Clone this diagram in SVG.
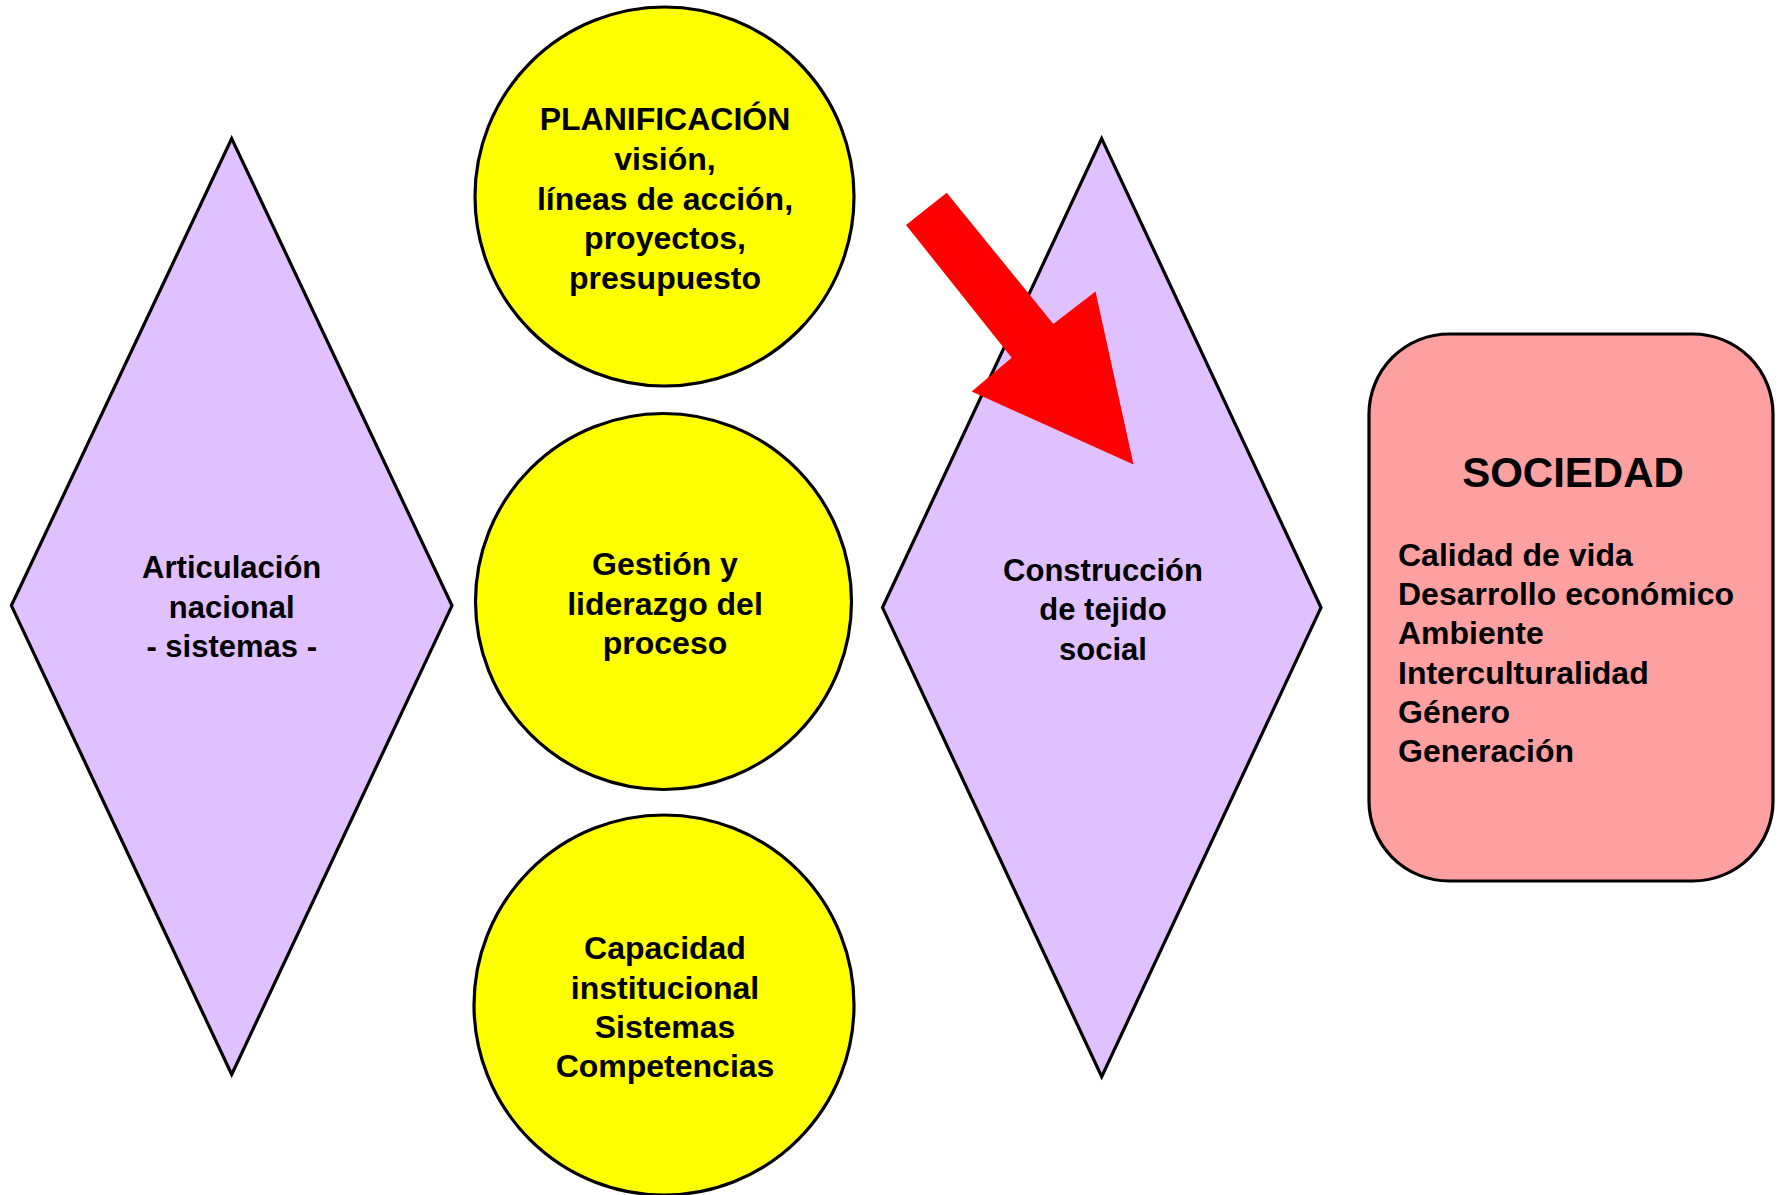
<svg xmlns="http://www.w3.org/2000/svg" width="1781" height="1195" viewBox="0 0 1781 1195">
<style>
.shape{stroke:#000;stroke-width:3.2;stroke-linejoin:miter}
.dia{fill:#E0C0FF}
.cir{fill:#FFFF00}
.box{fill:#FFA0A0}
text{font-family:"Liberation Sans",Arial,sans-serif;font-weight:bold;fill:#000}
.c{text-anchor:middle;font-size:32px}
.d{text-anchor:middle;font-size:31px}
.l{font-size:32px}
.t{text-anchor:middle;font-size:42px}
</style>
<rect width="1781" height="1195" fill="#fff"/>
<g id="articulacion">
<polygon class="shape dia" points="231.7,138.6 452,605.6 231.7,1074.5 11.4,605.6"/>
<text class="d" x="231.7" y="577.8">Articulación</text>
<text class="d" x="231.7" y="618">nacional</text>
<text class="d" x="231.7" y="657.3">- sistemas -</text>
</g>
<g id="planificacion">
<circle class="shape cir" cx="664.5" cy="196.5" r="189.5"/>
<text class="c" x="665" y="130">PLANIFICACIÓN</text>
<text class="c" x="665" y="169.8">visión,</text>
<text class="c" x="665" y="209.6">líneas de acción,</text>
<text class="c" x="665" y="249.4">proyectos,</text>
<text class="c" x="665" y="289.2">presupuesto</text>
</g>
<g id="gestion">
<circle class="shape cir" cx="663.5" cy="601.5" r="188"/>
<text class="c" x="665" y="575">Gestión y</text>
<text class="c" x="665" y="614.5">liderazgo del</text>
<text class="c" x="665" y="654">proceso</text>
</g>
<g id="capacidad">
<circle class="shape cir" cx="664" cy="1005" r="190"/>
<text class="c" x="665" y="959.3">Capacidad</text>
<text class="c" x="665" y="998.6">institucional</text>
<text class="c" x="665" y="1037.9">Sistemas</text>
<text class="c" x="665" y="1077.2">Competencias</text>
</g>
<g id="construccion">
<polygon class="shape dia" points="1101.7,138.6 1321,607.6 1101.7,1076.7 882.5,607.6"/>
<text class="d" x="1103" y="580.5">Construcción</text>
<text class="d" x="1103" y="620.3">de tejido</text>
<text class="d" x="1103" y="659.5">social</text>
</g>
<g id="sociedad">
<rect class="shape box" x="1369" y="334" width="404" height="547" rx="80" ry="80"/>
<text class="t" x="1573" y="486.7">SOCIEDAD</text>
<text class="l" x="1398" y="566">Calidad de vida</text>
<text class="l" x="1398" y="605.2">Desarrollo económico</text>
<text class="l" x="1398" y="644.4">Ambiente</text>
<text class="l" x="1398" y="683.6">Interculturalidad</text>
<text class="l" x="1398" y="722.8">Género</text>
<text class="l" x="1398" y="762">Generación</text>
</g>
<g id="connectors">
<polygon fill="#FF0000" points="906,225 946.7,192.7 1053.3,324 1095.5,291.5 1133.5,464.5 971.7,391.5 1011.7,357.7"/>
</g>
</svg>
